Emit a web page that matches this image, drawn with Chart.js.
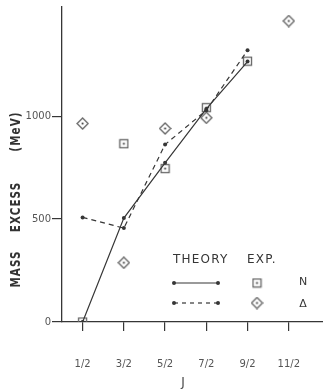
<!DOCTYPE html>
<html>
<head>
<meta charset="utf-8">
<script src="https://cdn.jsdelivr.net/npm/chart.js@4/dist/chart.umd.min.js"></script>
<style>
  html, body { margin: 0; padding: 0; background: #fff; }
  #wrap { width: 323px; height: 389px; position: relative; }
</style>
</head>
<body>
<div id="wrap"><canvas id="c"></canvas></div>
<script>
// Spin J values and their fraction labels
const jValues = [0.5, 1.5, 2.5, 3.5, 4.5, 5.5];
const jLabels = ['1/2', '3/2', '5/2', '7/2', '9/2', '11/2'];

// Theory curves (MeV), J = 1/2 .. 9/2
const theoryJ = [0.5, 1.5, 2.5, 3.5, 4.5];
const theoryN = [0, 505, 773, 1035, 1265];
const theoryDelta = [508, 456, 862, 1028, 1320];

// Experimental levels (MeV)
const expNJ = [0.5, 1.5, 2.5, 3.5, 4.5];
const expN = [0, 866, 745, 1041, 1267];
const expDeltaJ = [0.5, 1.5, 2.5, 3.5, 5.5];
const expDelta = [964, 288, 940, 992, 1462];

// Y axis ticks
const massTicks = [0, 500, 1000];

const ink = '#363636';
const soft = '#666';

function pts(xs, ys) { return xs.map((x, i) => ({ x: x, y: ys[i] })); }

// Open square / diamond with a centre dot
function markSquare() {
  const c = document.createElement('canvas');
  c.width = 11; c.height = 11;
  const g = c.getContext('2d');
  g.strokeStyle = soft; g.lineWidth = 1.3;
  g.strokeRect(1.5, 1.5, 8, 8);
  g.fillStyle = ink; g.fillRect(4.6, 4.6, 1.8, 1.8);
  return c;
}
function markDiamond() {
  const c = document.createElement('canvas');
  c.width = 13; c.height = 13;
  const g = c.getContext('2d');
  g.strokeStyle = soft; g.lineWidth = 1.3;
  g.beginPath();
  g.moveTo(6.5, 1); g.lineTo(12, 6.5); g.lineTo(6.5, 12); g.lineTo(1, 6.5); g.closePath();
  g.stroke();
  g.fillStyle = ink; g.fillRect(5.6, 5.6, 1.8, 1.8);
  return c;
}
const sq = markSquare();
const di = markDiamond();

// Axis titles and the table-style key
const annotatePlugin = {
  id: 'annotate',
  afterDraw(chart) {
    const ctx = chart.ctx;
    ctx.save();

    // vertical axis title, one word at a time
    ctx.fillStyle = '#333';
    ctx.font = 'bold 14px "DejaVu Sans"';
    ctx.textAlign = 'center';
    ctx.textBaseline = 'middle';
    [['MASS', 269], ['EXCESS', 207], ['(MeV)', 131.5]].forEach(w => {
      ctx.save();
      ctx.translate(16, w[1]);
      ctx.rotate(-Math.PI / 2);
      ctx.scale(0.74, 1);
      ctx.letterSpacing = '1.5px';
      ctx.fillText(w[0], 0, 0);
      ctx.restore();
    });

    // horizontal axis title
    ctx.fillStyle = '#444';
    ctx.font = '12px "DejaVu Sans"';
    ctx.fillText('J', 183, 383);

    // key
    ctx.fillStyle = ink;
    ctx.strokeStyle = ink;
    ctx.textAlign = 'left';
    ctx.textBaseline = 'alphabetic';
    ctx.font = '12px "DejaVu Sans"';
    ctx.letterSpacing = '1.2px';
    ctx.fillText('THEORY', 173, 263);
    ctx.fillText('EXP.', 247, 263);
    ctx.letterSpacing = '0px';
    ctx.lineWidth = 1.2;
    ctx.setLineDash([]);
    ctx.beginPath(); ctx.moveTo(174, 283); ctx.lineTo(218, 283); ctx.stroke();
    ctx.setLineDash([4, 4]);
    ctx.beginPath(); ctx.moveTo(174, 303); ctx.lineTo(218, 303); ctx.stroke();
    ctx.setLineDash([]);
    [[174, 283], [218, 283], [174, 303], [218, 303]].forEach(p => {
      ctx.beginPath(); ctx.arc(p[0], p[1], 2, 0, Math.PI * 2); ctx.fill();
    });
    ctx.drawImage(sq, 257 - 5.5, 283 - 5.5);
    ctx.drawImage(di, 257 - 6.5, 303 - 6.5);
    ctx.font = '11px "DejaVu Sans"';
    ctx.textAlign = 'center';
    ctx.fillText('N', 303, 285);
    ctx.fillText('\u0394', 303, 307);
    ctx.restore();
  }
};

new Chart(document.getElementById('c'), {
  type: 'scatter',
  data: {
    datasets: [
      {
        label: 'Theory N',
        data: pts(theoryJ, theoryN),
        showLine: true,
        borderColor: ink,
        backgroundColor: ink,
        borderWidth: 1.2,
        pointRadius: 2,
        pointBorderWidth: 0
      },
      {
        label: 'Theory \u0394',
        data: pts(theoryJ, theoryDelta),
        showLine: true,
        borderColor: ink,
        backgroundColor: ink,
        borderWidth: 1.2,
        borderDash: [5, 4],
        pointRadius: 2,
        pointBorderWidth: 0
      },
      {
        label: 'Exp. N',
        data: pts(expNJ, expN),
        pointStyle: sq,
        showLine: false
      },
      {
        label: 'Exp. \u0394',
        data: pts(expDeltaJ, expDelta),
        pointStyle: di,
        showLine: false
      }
    ]
  },
  options: {
    responsive: true,
    maintainAspectRatio: false,
    animation: false,
    layout: { autoPadding: false, padding: { top: 7, right: 0, left: 0, bottom: 0 } },
    plugins: {
      legend: { display: false },
      tooltip: { enabled: false }
    },
    scales: {
      x: {
        type: 'linear',
        min: 0,
        max: 6.33,
        afterBuildTicks(axis) { axis.ticks = jValues.map(v => ({ value: v })); },
        afterFit(axis) { axis.height = 67; axis.paddingLeft = 0; axis.paddingRight = 0; },
        ticks: {
          callback(v) { const i = jValues.indexOf(v); return i >= 0 ? jLabels[i] : ''; },
          color: '#555',
          font: { family: 'DejaVu Sans', size: 10 },
          padding: 27,
          maxRotation: 0,
          autoSkip: false
        },
        grid: { drawOnChartArea: false, drawTicks: true, tickLength: 9, color: ink, lineWidth: 1.2 },
        border: { display: true, color: ink, width: 1.3 }
      },
      y: {
        min: 0,
        max: 1530,
        afterBuildTicks(axis) { axis.ticks = massTicks.map(v => ({ value: v })); },
        afterFit(axis) { axis.width = 62; axis.paddingTop = 0; axis.paddingBottom = 0; },
        ticks: {
          callback(v) { return String(v); },
          color: '#555',
          font: { family: 'DejaVu Sans', size: 10 },
          padding: 1
        },
        grid: { drawOnChartArea: false, drawTicks: true, tickLength: 10, color: ink, lineWidth: 1.2 },
        border: { display: true, color: ink, width: 1.3 }
      }
    }
  },
  plugins: [annotatePlugin]
});
</script>
</body>
</html>
